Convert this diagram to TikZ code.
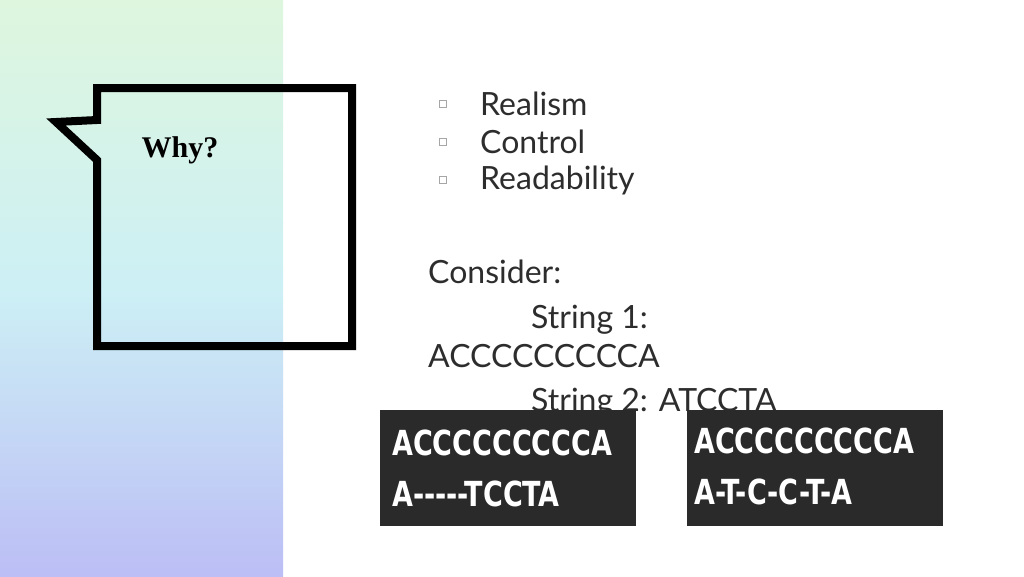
\documentclass[tikz,border=0pt]{standalone}
\usepackage{fontspec}
\setmainfont{Lato}
\newfontfamily\seqfont{DejaVu Sans Condensed}
\newfontfamily\whyfont{Liberation Serif}
\usetikzlibrary{positioning}
\definecolor{textgray}{RGB}{45,45,45}
\definecolor{boxgray}{RGB}{42,42,42}
\definecolor{panelcyan}{RGB}{205,240,245}
\definecolor{panelgreen}{RGB}{222,246,222}
\definecolor{panellav}{RGB}{188,190,245}

\begin{document}
\begin{tikzpicture}[x=1pt,y=-1pt,
		item/.style={anchor=west,font=\fontsize{32}{38}\selectfont,text=textgray,inner sep=0pt},
		bulletbox/.style={draw=gray!70,line width=0.6pt,minimum size=7pt,inner sep=0pt},
		seqbox/.style={fill=boxgray,minimum width=256pt,minimum height=116pt,inner sep=0pt},
		seqtext/.style={font=\seqfont\bfseries\fontsize{30}{36}\selectfont,text=white,inner sep=0pt,anchor=west,yscale=1.15}
	]
	\useasboundingbox (0,0) rectangle (1024,576);
	\fill[white] (0,0) rectangle (1024,576);

	% Left panel
	\shade[shading angle=35,top color=panelgreen,bottom color=panellav,middle color=panelcyan] (0,0) rectangle (283,576);

	% Speech bubble
	\draw[line width=8pt,line join=miter]
		(97,88) -- (352,88) -- (352,346) -- (97,346) -- (97,160) -- (56,122) -- (97,120) -- cycle;
	\node[font=\whyfont\bfseries\fontsize{30}{36}\selectfont,text=black] (why) at (180,150) {Why?};

	% Bullet list
	\foreach \y/\txt [count=\i] in {104/Realism,142/Control,180/Readability}{
		\node[bulletbox] (b\i) at (443,\y) {};
		\node[item] (t\i) at (480,\y) {\txt};
	}

	% Example strings
	\node[item] (consider) at (428,272) {Consider:};
	\node[item] (s1) at (531,320) {String 1:};
	\node[item] (seq1) at (428,356) {ACCCCCCCCCA};
	\node[item] (s2) at (531,403) {String 2: ATCCTA};

	% Alignment screenshots
	\node[seqbox,anchor=north west] (imgA) at (380,410) {};
	\node[seqbox,anchor=north west] (imgB) at (687,410) {};
	\node[seqtext] (a1) at (392,443) {ACCCCCCCCCA};
	\node[seqtext] (a2) at (392,494) {A-----TCCTA};
	\node[seqtext] (b1) at (694,441) {ACCCCCCCCCA};
	\node[seqtext] (b2) at (694,492) {A-T-C-C-T-A};
\end{tikzpicture}
\end{document}
